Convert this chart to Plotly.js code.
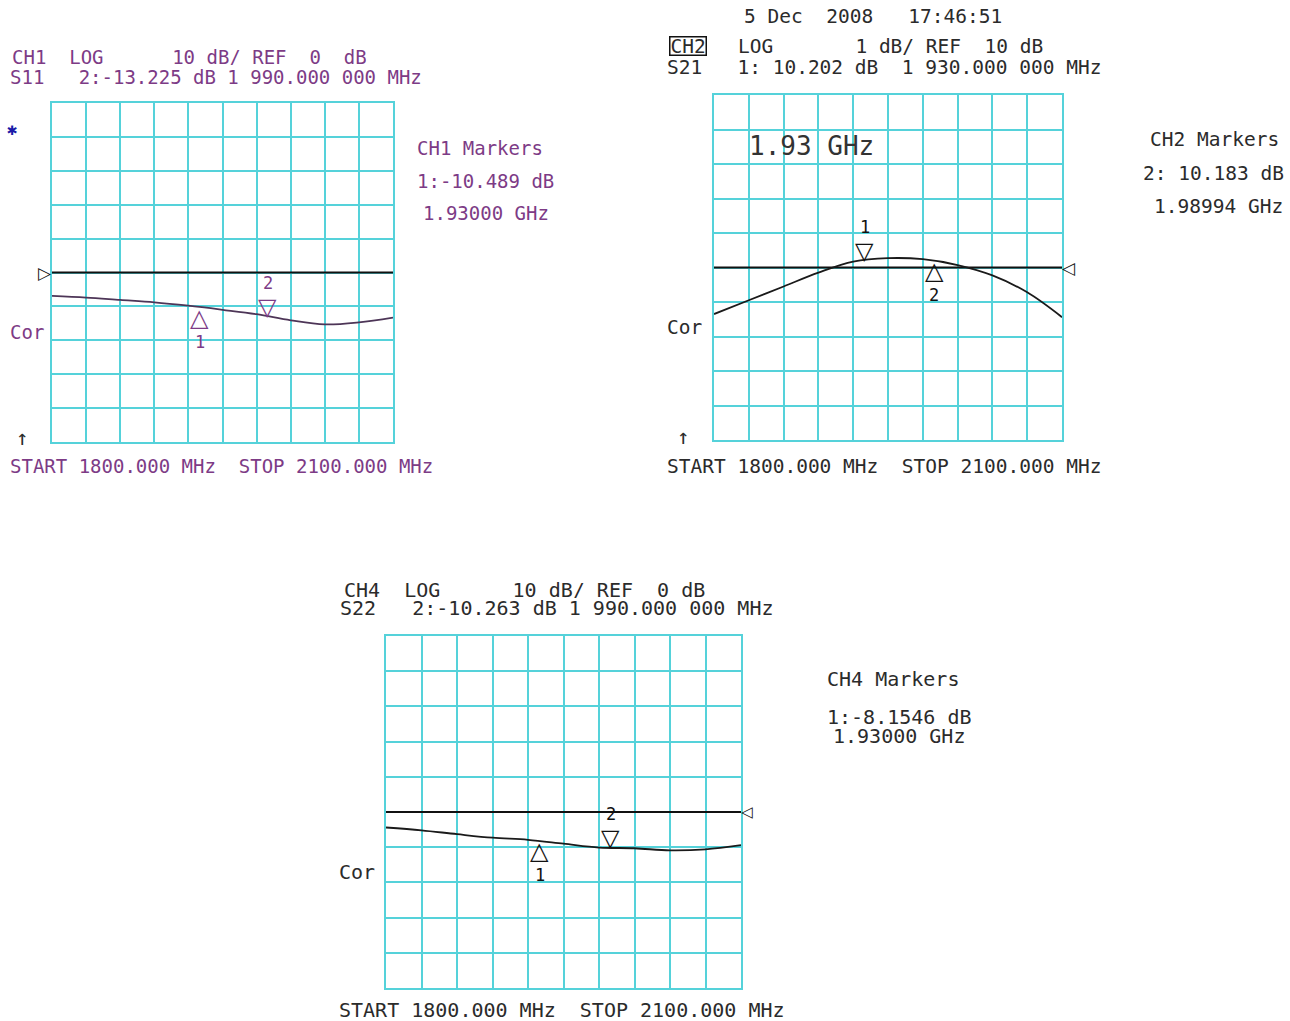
<!DOCTYPE html>
<html>
<head>
<meta charset="utf-8">
<script src="https://cdn.plot.ly/plotly-3.0.1.min.js"></script>
<style>
  html, body { margin: 0; padding: 0; background: #fff; }
  #chart { width: 1290px; height: 1021px; }
</style>
</head>
<body>
<div id="chart"></div>
<script>
// sweep points, MHz
const freqs = [1800, 1830, 1860, 1890, 1920, 1950, 1980, 2010, 2040, 2070, 2100];

// CH1 S11 (dB), CH2 S21 (dB), CH4 S22 (dB)
const s11 = [-6.9, -7.4, -8.1, -8.8, -9.8, -11.0, -12.3, -14.1, -15.3, -14.7, -13.3];
const s21 = [8.65, 9.05, 9.45, 9.85, 10.17, 10.27, 10.24, 10.07, 9.77, 9.28, 8.56];
const s22 = [-4.4, -5.2, -6.3, -7.3, -7.9, -9.0, -10.1, -10.3, -10.9, -10.6, -9.4];

// reference levels and scale (dB/div)
const refLevels = [0, 10, 0];
const scales = [10, 1, 10];

// markers: [freq, value, label]
const ch1Markers = [[1930, -10.489, '1'], [1990, -13.225, '2']];
const ch2Markers = [[1930, 10.202, '1'], [1990, 10.183, '2']];
const ch4Markers = [[1930, -8.1546, '1'], [1990, -10.263, '2']];

const W = 1290, H = 1021;
const px = x => x / W;
const py = y => 1 - y / H;

const GRID = '#55d2da';
const MONO = '"DejaVu Sans Mono", "Liberation Mono", monospace';
const NB = s => s.replace(/ /g, '\u00A0');

function xAxis(x0, x1, anchor) {
    return {
        domain: [px(x0), px(x1)], anchor: anchor,
        range: [1800, 2100], tick0: 1800, dtick: 30,
        showticklabels: false, ticks: '', zeroline: false,
        showgrid: true, gridcolor: GRID, gridwidth: 2,
        showline: true, linecolor: GRID, linewidth: 2, mirror: true,
        fixedrange: true
    };
}

function yAxis(y0, y1, anchor, ref, scale) {
    return {
        domain: [py(y1), py(y0)], anchor: anchor,
        range: [ref - 5 * scale, ref + 5 * scale], tick0: ref, dtick: scale,
        showticklabels: false, ticks: '', zeroline: false,
        showgrid: true, gridcolor: GRID, gridwidth: 2,
        showline: true, linecolor: GRID, linewidth: 2, mirror: true,
        fixedrange: true
    };
}

// text placed at pixel position (left edge, vertical middle)
function label(text, x, y, size, color, extra) {
    return Object.assign({
        xref: 'paper', yref: 'paper', x: px(x), y: py(y),
        xanchor: 'left', yanchor: 'middle', showarrow: false,
        text: NB(text), font: { family: MONO, size: size, color: color }
    }, extra || {});
}

// tight boxes for lines that sit close together
const tight = { height: 17 };

// marker symbol and its number, tip of the triangle on the trace
function markerNotes(list, xr, yr, color, downFirst) {
    const notes = [];
    list.forEach((m, i) => {
        const down = downFirst ? i === 0 : i === 1;
        notes.push({
            xref: xr, yref: yr, x: m[0], y: m[1], showarrow: false,
            xanchor: 'center', yanchor: down ? 'bottom' : 'top',
            yshift: down ? -6 : 6,
            text: down ? '▽' : '△',
            font: { family: 'DejaVu Sans', size: 24, color: color }
        });
        notes.push({
            xref: xr, yref: yr, x: m[0], y: m[1], showarrow: false,
            xanchor: 'center', yanchor: down ? 'bottom' : 'top',
            yshift: down ? 23 : -23,
            height: 18,
            text: m[2],
            font: { family: MONO, size: 17, color: color }
        });
    });
    return notes;
}

const c1 = '#7d3b86', c1t = '#4d3557', dark = '#2b2b2b';

const traces = [
    { x: [1800, 2100], y: [refLevels[0], refLevels[0]], xaxis: 'x', yaxis: 'y', mode: 'lines', line: { color: '#111', width: 1.8 } },
    { x: freqs, y: s11, xaxis: 'x', yaxis: 'y', mode: 'lines', line: { color: c1t, width: 1.8, shape: 'spline' } },
    { x: [1800, 2100], y: [refLevels[1], refLevels[1]], xaxis: 'x2', yaxis: 'y2', mode: 'lines', line: { color: '#111', width: 1.8 } },
    { x: freqs, y: s21, xaxis: 'x2', yaxis: 'y2', mode: 'lines', line: { color: '#1a1a1a', width: 1.8, shape: 'spline' } },
    { x: [1800, 2100], y: [refLevels[2], refLevels[2]], xaxis: 'x3', yaxis: 'y3', mode: 'lines', line: { color: '#111', width: 1.8 } },
    { x: freqs, y: s22, xaxis: 'x3', yaxis: 'y3', mode: 'lines', line: { color: '#1a1a1a', width: 1.8, shape: 'spline' } }
];

const annotations = [
    // CH1
    label('CH1  LOG      10 dB/ REF  0  dB', 10, 57, 19, c1, tight),
    label('S11   2:-13.225 dB 1 990.000 000 MHz', 8, 76, 19, c1, tight),
    label('CH1 Markers', 415, 148, 19, c1),
    label('1:-10.489 dB', 415, 181, 19, c1),
    label('1.93000 GHz', 421, 213, 19, c1),
    label('✱', 5, 129, 17, '#1a1aa8'),
    label('Cor', 8, 332, 19, c1),
    label('↑', 14, 438, 21, dark),
    label('START 1800.000 MHz  STOP 2100.000 MHz', 8, 466, 19, c1),
    { xref: 'x', yref: 'y', x: 1800, y: refLevels[0], xanchor: 'right', yanchor: 'middle', xshift: 2,
      showarrow: false, text: '▷', font: { family: 'DejaVu Sans', size: 17, color: '#111' } },
    // CH2
    label('5 Dec  2008   17:46:51', 742, 17, 19.5, dark),
    label('CH2', 669, 46, 19.5, dark, { bordercolor: '#111', borderwidth: 1.5, borderpad: 0, height: 17 }),
    label('LOG       1 dB/ REF  10 dB', 736, 46, 19.5, dark, tight),
    label('S21   1: 10.202 dB  1 930.000 000 MHz', 665, 67, 19.5, dark, tight),
    label('1.93 GHz', 747, 146, 26, '#333'),
    label('CH2 Markers', 1148, 140, 19.5, dark),
    label('2: 10.183 dB', 1141, 173, 19.5, dark),
    label('1.98994 GHz', 1152, 207, 19.5, dark),
    label('Cor', 665, 328, 19.5, dark),
    label('↑', 675, 437, 21, dark),
    label('START 1800.000 MHz  STOP 2100.000 MHz', 665, 466, 19.5, dark),
    { xref: 'x2', yref: 'y2', x: 2100, y: refLevels[1], xanchor: 'left', yanchor: 'middle', xshift: -2,
      showarrow: false, text: '◁', font: { family: 'DejaVu Sans', size: 17, color: '#111' } },
    // CH4
    label('CH4  LOG      10 dB/ REF  0 dB', 342, 589, 20, dark, tight),
    label('S22   2:-10.263 dB 1 990.000 000 MHz', 338, 607, 20, dark, tight),
    label('CH4 Markers', 825, 679, 20, dark),
    label('1:-8.1546 dB', 825, 716, 20, dark, tight),
    label('1.93000 GHz', 831, 735, 20, dark, tight),
    label('Cor', 337, 872, 20, dark),
    label('START 1800.000 MHz  STOP 2100.000 MHz', 337, 1010, 20, dark),
    { xref: 'x3', yref: 'y3', x: 2100, y: refLevels[2], xanchor: 'left', yanchor: 'middle', xshift: -2,
      showarrow: false, text: '◁', font: { family: 'DejaVu Sans', size: 15, color: '#111' } }
].concat(
    markerNotes(ch1Markers, 'x', 'y', c1, false),
    markerNotes(ch2Markers, 'x2', 'y2', '#111', true),
    markerNotes(ch4Markers, 'x3', 'y3', '#111', false)
);

const layout = {
    width: W, height: H,
    margin: { l: 0, r: 0, t: 0, b: 0 },
    paper_bgcolor: '#ffffff', plot_bgcolor: '#ffffff',
    showlegend: false,
    xaxis: xAxis(52, 393, 'y'),
    yaxis: yAxis(103, 442, 'x', refLevels[0], scales[0]),
    xaxis2: xAxis(714, 1062, 'y2'),
    yaxis2: yAxis(95, 440, 'x2', refLevels[1], scales[1]),
    xaxis3: xAxis(386, 741, 'y3'),
    yaxis3: yAxis(636, 988, 'x3', refLevels[2], scales[2]),
    annotations: annotations
};

Plotly.newPlot('chart', traces, layout, { displayModeBar: false, staticPlot: true });
</script>
</body>
</html>
